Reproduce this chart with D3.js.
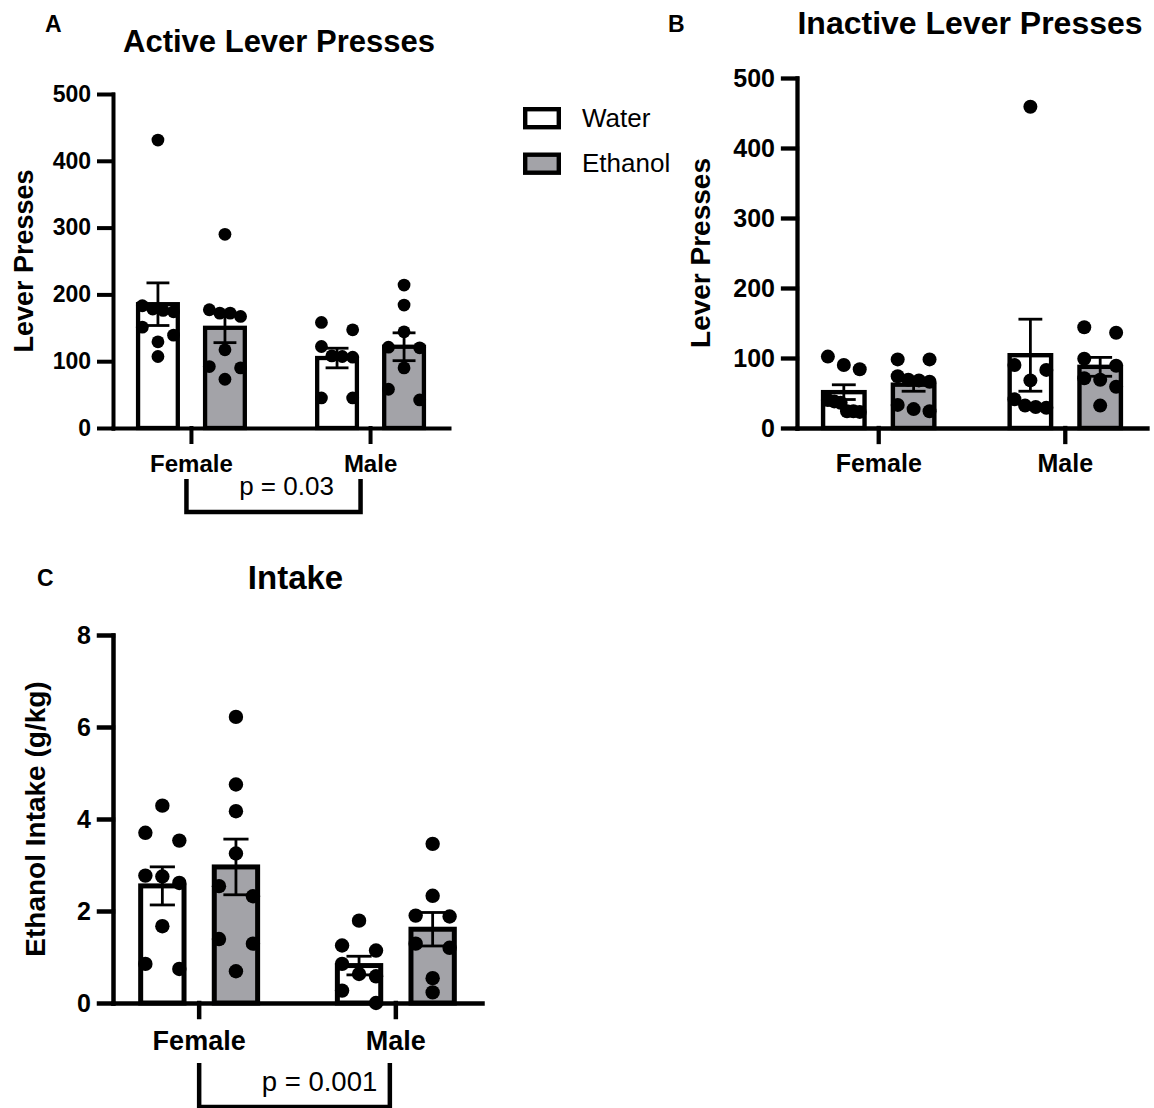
<!DOCTYPE html>
<html lang="en">
<head>
<meta charset="UTF-8">
<title>Lever presses and ethanol intake</title>
<script src="https://cdn.jsdelivr.net/npm/d3@7"></script>
<style>
  body { margin: 0; background: #fff; }
  svg { display: block; font-family: "Liberation Sans", Arial, Helvetica, sans-serif; }
</style>
</head>
<body>
<svg id="fig" width="1154" height="1108"></svg>
<script>
// groups
var sexes = ["Female", "Male"];
var drinks = ["Water", "Ethanol"];

// A: active lever presses (one value per animal)
var activeFemaleWater = [431, 183, 178, 176, 174, 151, 139, 129, 107];
var activeFemaleEthanol = [290, 177, 172, 172, 167, 117, 92, 90, 73];
var activeMaleWater = [158, 147, 122, 108, 107, 106, 45, 45];
var activeMaleEthanol = [214, 184, 144, 121, 120, 90, 58, 42];

// B: inactive lever presses
var inactiveFemaleWater = [102, 90, 84, 40, 38, 36, 24, 24, 23];
var inactiveFemaleEthanol = [98, 98, 74, 69, 68, 66, 33, 27, 24];
var inactiveMaleWater = [459, 90, 83, 68, 41, 32, 30, 29];
var inactiveMaleEthanol = [144, 136, 99, 89, 71, 69, 59, 32];

// C: ethanol intake (g/kg)
var intakeFemaleWater = [4.29, 3.70, 3.53, 2.77, 2.75, 2.61, 1.67, 0.85, 0.74];
var intakeFemaleEthanol = [6.22, 4.75, 4.17, 3.25, 2.54, 2.32, 1.39, 1.29, 0.69];
var intakeMaleWater = [1.79, 1.25, 1.14, 0.85, 0.63, 0.58, 0.27, 0.0];
var intakeMaleEthanol = [3.46, 2.33, 1.90, 1.88, 1.29, 1.20, 0.54, 0.23];

// axis ticks
var pressTicks = [0, 100, 200, 300, 400, 500];
var intakeTicks = [0, 2, 4, 6, 8];

// p values for the sex effect
var pActive = "p = 0.03";
var pIntake = "p = 0.001";

var fill = { Water: "#ffffff", Ethanol: "#a3a3a8" };

var svg = d3.select("#fig");

var panels = [
  { letter: "A", title: "Active Lever Presses", yLabel: "Lever Presses", ticks: pressTicks,
    data: { Female: { Water: activeFemaleWater, Ethanol: activeFemaleEthanol },
            Male: { Water: activeMaleWater, Ethanol: activeMaleEthanol } },
    left: 113, right: 449, top: 94, bottom: 428,
    r: 6.4, barStroke: 4.3, axisStroke: 4,
    tickFont: 23, catFont: 24, catBase: 44,
    yLabelX: 33, yLabelFont: 27, titleY: 52, titleFont: 31,
    letterX: 45, letterY: 32,
    p: pActive, pFont: 26, bracket: [-5, -10, 51, 84], pDy: 67 },
  { letter: "B", title: "Inactive Lever Presses", yLabel: "Lever Presses", ticks: pressTicks,
    data: { Female: { Water: inactiveFemaleWater, Ethanol: inactiveFemaleEthanol },
            Male: { Water: inactiveMaleWater, Ethanol: inactiveMaleEthanol } },
    left: 797, right: 1147, top: 78, bottom: 428,
    r: 7, barStroke: 4.4, axisStroke: 4.3,
    tickFont: 25, catFont: 25, catBase: 44,
    yLabelX: 710, yLabelFont: 28, titleY: 34, titleFont: 32,
    letterX: 668, letterY: 32 },
  { letter: "C", title: "Intake", yLabel: "Ethanol Intake (g/kg)", ticks: intakeTicks,
    data: { Female: { Water: intakeFemaleWater, Ethanol: intakeFemaleEthanol },
            Male: { Water: intakeMaleWater, Ethanol: intakeMaleEthanol } },
    left: 113, right: 482, top: 635, bottom: 1003,
    r: 7.2, barStroke: 5, axisStroke: 4.5,
    tickFont: 25, catFont: 27, catBase: 47,
    yLabelX: 45, yLabelFont: 28, titleY: 589, titleFont: 33,
    letterX: 37, letterY: 586,
    p: pIntake, pFont: 27.5, bracket: [0, -6, 60, 104], pDy: 88 }
];

// spread dots sideways when they would overlap
function swarm(values, y, r, bw) {
  var pts = values.map(function(v) { return { v: v, py: y(v) }; })
    .sort(function(a, b) { return a.py - b.py; });
  var rows = [];
  pts.forEach(function(d) {
    var row = rows[rows.length - 1];
    if (row && d.py - row[0].py < 1.8 * r) row.push(d);
    else rows.push([d]);
  });
  rows.forEach(function(row) {
    var k = row.length;
    var s = k > 1 ? (bw - 2 * r) / (k - 1) : 0;
    row.forEach(function(d, i) { d.dx = (i - (k - 1) / 2) * s; });
  });
  return pts;
}

panels.forEach(function(cfg) {
  var g = svg.append("g");

  var x0 = d3.scaleBand().domain(sexes).range([cfg.left, cfg.right])
    .paddingInner(0.38).paddingOuter(0.128);
  var x1 = d3.scaleBand().domain(drinks).range([0, x0.bandwidth()])
    .paddingInner(0.343).paddingOuter(0);
  var y = d3.scaleLinear().domain([0, d3.max(cfg.ticks)]).range([cfg.bottom, cfg.top]);
  var bw = x1.bandwidth();

  var table = [];
  sexes.forEach(function(s) {
    drinks.forEach(function(d) {
      var vals = cfg.data[s][d];
      var m = d3.mean(vals);
      table.push({ sex: s, drink: d, values: vals, mean: m,
                   sem: d3.deviation(vals) / Math.sqrt(vals.length),
                   x: x0(s) + x1(d) });
    });
  });

  // bars
  g.selectAll("rect.bar")
    .data(table)
    .enter()
    .append("rect")
    .attr("class", "bar")
    .attr("x", function(d) { return d.x + cfg.barStroke / 2; })
    .attr("width", bw - cfg.barStroke)
    .attr("y", function(d) { return y(d.mean); })
    .attr("height", function(d) { return y(0) - y(d.mean); })
    .attr("fill", function(d) { return fill[d.drink]; })
    .attr("stroke", "#000")
    .attr("stroke-width", cfg.barStroke);

  // error bars (mean +/- SEM)
  var eb = g.selectAll("g.err")
    .data(table)
    .enter()
    .append("g")
    .attr("class", "err")
    .attr("stroke", "#000")
    .attr("stroke-width", 2.8);
  eb.append("line")
    .attr("x1", function(d) { return d.x + bw / 2; })
    .attr("x2", function(d) { return d.x + bw / 2; })
    .attr("y1", function(d) { return y(d.mean - d.sem); })
    .attr("y2", function(d) { return y(d.mean + d.sem); });
  [-1, 1].forEach(function(sign) {
    eb.append("line")
      .attr("x1", function(d) { return d.x + bw / 2 - bw * 0.26; })
      .attr("x2", function(d) { return d.x + bw / 2 + bw * 0.26; })
      .attr("y1", function(d) { return y(d.mean + sign * d.sem); })
      .attr("y2", function(d) { return y(d.mean + sign * d.sem); });
  });

  // individual animals
  table.forEach(function(d) {
    g.selectAll(null)
      .data(swarm(d.values, y, cfg.r, bw))
      .enter()
      .append("circle")
      .attr("cx", function(p) { return d.x + bw / 2 + p.dx; })
      .attr("cy", function(p) { return p.py; })
      .attr("r", cfg.r)
      .attr("fill", "#000");
  });

  // axes
  var yAxis = g.append("g")
    .attr("transform", "translate(" + cfg.left + ",0)")
    .call(d3.axisLeft(y).tickValues(cfg.ticks).tickSize(14).tickSizeOuter(0).tickPadding(8));
  var xAxis = g.append("g")
    .attr("transform", "translate(0," + cfg.bottom + ")")
    .call(d3.axisBottom(x0).tickSize(14).tickSizeOuter(0));

  [yAxis, xAxis].forEach(function(ax) {
    ax.selectAll(".domain, .tick line")
      .attr("stroke", "#000")
      .attr("stroke-width", cfg.axisStroke)
      .attr("stroke-linecap", "square");
    ax.selectAll("text")
      .attr("fill", "#000")
      .style("font-family", "'Liberation Sans', Arial, sans-serif")
      .style("font-weight", "bold");
  });
  yAxis.selectAll("text").style("font-size", cfg.tickFont + "px");
  xAxis.selectAll("text")
    .style("font-size", cfg.catFont + "px")
    .attr("y", cfg.catBase)
    .attr("dy", 0);

  // axis title
  g.append("text")
    .attr("transform", "translate(" + cfg.yLabelX + "," + ((cfg.top + cfg.bottom) / 2) + ") rotate(-90)")
    .attr("text-anchor", "middle")
    .style("font-size", cfg.yLabelFont + "px")
    .style("font-weight", "bold")
    .text(cfg.yLabel);

  // panel title and letter
  g.append("text")
    .attr("x", (cfg.left + cfg.right) / 2 - 2)
    .attr("y", cfg.titleY)
    .attr("text-anchor", "middle")
    .style("font-size", cfg.titleFont + "px")
    .style("font-weight", "bold")
    .text(cfg.title);
  g.append("text")
    .attr("x", cfg.letterX)
    .attr("y", cfg.letterY)
    .style("font-size", "23px")
    .style("font-weight", "bold")
    .text(cfg.letter);

  // sex effect bracket
  if (cfg.p) {
    var bx1 = x0("Female") + x0.bandwidth() / 2 + cfg.bracket[0];
    var bx2 = x0("Male") + x0.bandwidth() / 2 + cfg.bracket[1];
    var by1 = cfg.bottom + cfg.bracket[2];
    var by2 = cfg.bottom + cfg.bracket[3];
    g.append("path")
      .attr("d", "M" + bx1 + "," + by1 + "V" + by2 + "H" + bx2 + "V" + by1)
      .attr("fill", "none")
      .attr("stroke", "#000")
      .attr("stroke-width", 4.5);
    g.append("text")
      .attr("x", (bx1 + bx2) / 2 + (cfg.letter === "C" ? 25 : 13))
      .attr("y", cfg.bottom + cfg.pDy)
      .attr("text-anchor", "middle")
      .style("font-size", cfg.pFont + "px")
      .text(cfg.p);
  }
});

// legend
var legend = svg.append("g").attr("transform", "translate(523,107)");
var item = legend.selectAll("g")
  .data(drinks)
  .enter()
  .append("g")
  .attr("transform", function(d, i) { return "translate(0," + (i * 45.5) + ")"; });
item.append("rect")
  .attr("x", 2.2).attr("y", 2.2)
  .attr("width", 33.6).attr("height", 18)
  .attr("fill", function(d) { return fill[d]; })
  .attr("stroke", "#000")
  .attr("stroke-width", 4.4);
item.append("text")
  .attr("x", 59)
  .attr("y", 19.5)
  .style("font-size", "26px")
  .text(function(d) { return d; });
</script>
</body>
</html>
